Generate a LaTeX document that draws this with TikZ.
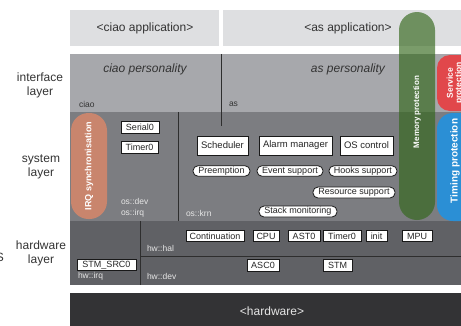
\documentclass[tikz,border=0pt]{standalone}
\usepackage{fontspec}
\setmainfont{Liberation Sans}
\definecolor{toplight}{HTML}{DEDFE1}
\definecolor{iface}{HTML}{A7A8AC}
\definecolor{syslay}{HTML}{7C7D81}
\definecolor{hwlay}{HTML}{606165}
\definecolor{hwdark}{HTML}{333335}
\definecolor{irqc}{HTML}{C9856D}
\definecolor{memc}{RGB}{50,103,26}
\definecolor{servc}{HTML}{E1474B}
\definecolor{timc}{HTML}{2B8FD5}
\definecolor{divline}{HTML}{2E2E2E}
\definecolor{lbllight}{HTML}{E6E6E6}
\definecolor{txtdark}{HTML}{333333}
\begin{document}
\begin{tikzpicture}[x=1pt,y=-1pt,
  every node/.style={inner sep=0pt, outer sep=0pt},
  bigtxt/.style={font=\fontsize{12}{14}\selectfont, text=txtdark},
  layertxt/.style={font=\fontsize{12}{14}\selectfont, text=txtdark, align=center},
  darklbl/.style={font=\fontsize{8.5}{10}\selectfont, anchor=west, text=txtdark},
  lightlbl/.style={font=\fontsize{8.5}{10}\selectfont, anchor=west, text=lbllight},
  wbox/.style={draw=black!90, fill=white, line width=0.8pt, font=\fontsize{9}{10}\selectfont, text=black!85},
  pillbox/.style={wbox, rounded corners=5pt},
  divider/.style={draw=divline, line width=0.9pt},
  vtext/.style={rotate=90, text=white, font=\bfseries\fontsize{#1}{#1}\selectfont, align=center},
]
\useasboundingbox (0,0) rectangle (461,325);
\clip (0,0) rectangle (461,325);

% layers
\fill[toplight] (70,10) rectangle (219,46);
\fill[toplight] (223,10) rectangle (470,46);
\fill[iface] (70,54) rectangle (470,112);
\fill[syslay] (70,112) rectangle (470,221);
\fill[hwlay] (70,221) rectangle (470,285);
\fill[hwdark] (70,293) rectangle (470,330);

% dividers
\draw[divider] (221,54) -- (221,126);
\draw[divider] (178,112) -- (178,221);
\draw[divider] (140,221) -- (140,285);
\draw[divider] (140,256) -- (470,256);

% application / personality texts
\node[bigtxt] (ciaoapp) at (145,28) {<ciao application>};
\node[bigtxt] (asapp) at (348,28) {<as application>};
\node[bigtxt, font=\itshape\fontsize{12}{14}\selectfont] (ciaopers) at (145,69) {ciao personality};
\node[bigtxt, font=\itshape\fontsize{12}{14}\selectfont] (aspers) at (348,69) {as personality};
\node[bigtxt, text=lbllight] (hw) at (272,311) {<hardware>};

% layer names
\node[layertxt] (lif) at (40,85) {interface\\layer};
\node[layertxt] (lsys) at (41,167) {system\\layer};
\node[layertxt] (lhw) at (41,253) {hardware\\layer};
\node[bigtxt, anchor=east] (cutS) at (4,257) {S};

% small labels
\node[darklbl] (lciao) at (79,104) {ciao};
\node[darklbl] (las) at (229,104) {as};
\node[lightlbl] (losdev) at (121,201) {os::dev};
\node[lightlbl] (losirq) at (121,213) {os::irq};
\node[lightlbl] (loskrn) at (186,213) {os::krn};
\node[lightlbl] (lhwhal) at (147,248) {hw::hal};
\node[lightlbl] (lhwdev) at (147,276) {hw::dev};
\node[lightlbl] (lhwirq) at (78,276) {hw::irq};

% protection pills
\fill[irqc, rounded corners=17.5pt] (71,113) rectangle (107,219);
\node[vtext=9] (irq) at (89,166) {IRQ synchronisation};
\fill[memc, fill opacity=0.65, rounded corners=18pt] (399,12) rectangle (435,220);
\node[vtext=8] (mem) at (417,112) {Memory protection};
\fill[servc, rounded corners=13pt] (437,55) rectangle (476,111);
\node[vtext=8.5] (serv) at (455,83) {Service\\protection};
\fill[timc, rounded corners=16pt] (437,113) rectangle (476,221);
\node[vtext=10] (tim) at (455,161) {Timing protection};

% os::dev boxes
\node[wbox, minimum width=38, minimum height=12] (serial) at (140,127) {Serial0};
\node[wbox, minimum width=37, minimum height=12] (timer) at (139.5,147) {Timer0};

% kernel boxes
\node[wbox, minimum width=51, minimum height=19, font=\fontsize{9.5}{10}\selectfont] (sched) at (222.5,145.5) {Scheduler};
\node[wbox, minimum width=73, minimum height=19, font=\fontsize{9.5}{10}\selectfont] (alarm) at (295.5,145.5) {Alarm manager};
\node[wbox, minimum width=53, minimum height=19, font=\fontsize{9.5}{10}\selectfont] (osctl) at (366.5,145.5) {OS control};

\node[pillbox, minimum width=57, minimum height=10.5] (preempt) at (221.5,171) {Preemption};
\node[pillbox, minimum width=66, minimum height=10.5] (event) at (290,171) {Event support};
\node[pillbox, minimum width=68, minimum height=10.5] (hooks) at (363,171) {Hooks support};
\node[pillbox, minimum width=82, minimum height=11] (resource) at (354,192.5) {Resource support};
\node[pillbox, minimum width=78, minimum height=11] (stack) at (298,211.5) {Stack monitoring};

% hardware boxes
\node[wbox, minimum width=58, minimum height=11] (cont) at (215,236) {Continuation};
\node[wbox, minimum width=26, minimum height=11] (cpu) at (266,236) {CPU};
\node[wbox, minimum width=32, minimum height=11] (ast) at (304,236) {AST0};
\node[wbox, minimum width=38, minimum height=11] (htimer) at (342,236) {Timer0};
\node[wbox, minimum width=21, minimum height=11] (init) at (376.5,236) {init};
\node[wbox, minimum width=30, minimum height=11] (mpu) at (417,236) {MPU};
\node[wbox, minimum width=32, minimum height=12] (asc) at (263,265) {ASC0};
\node[wbox, minimum width=29, minimum height=12] (stm) at (337.5,265) {STM};
\node[wbox, minimum width=59, minimum height=11] (stmsrc) at (106.5,265) {STM\_SRC0};
\end{tikzpicture}
\end{document}
